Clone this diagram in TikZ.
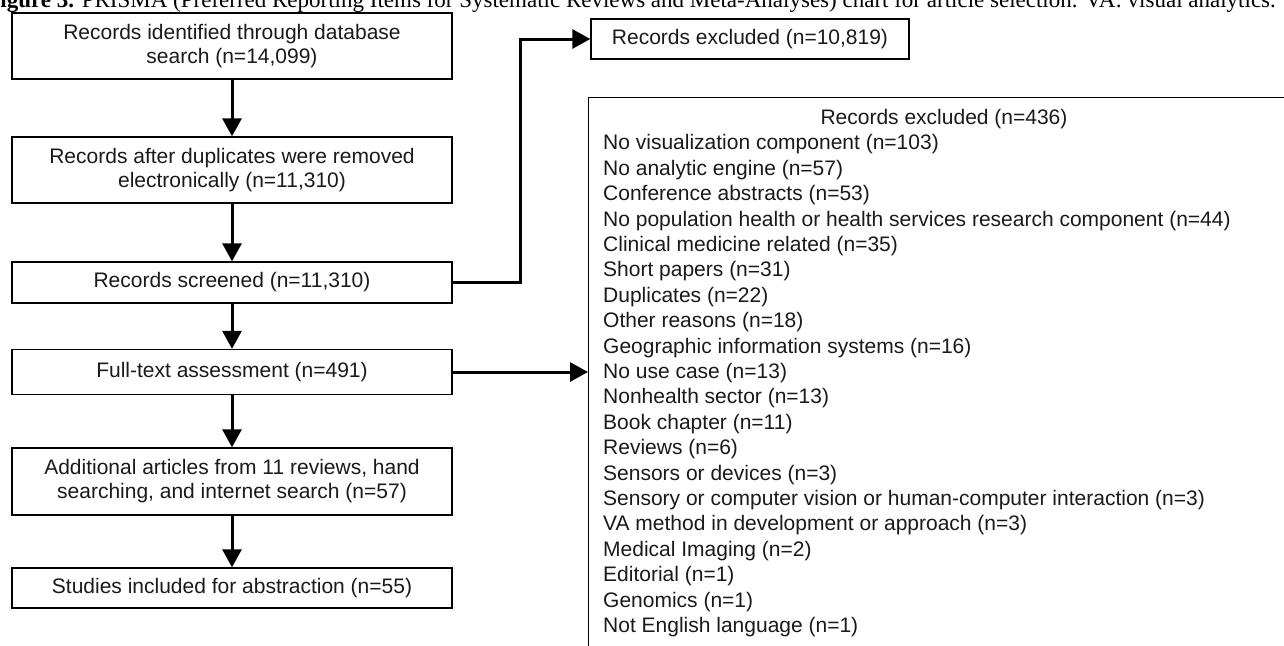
\documentclass[tikz,border=0pt]{standalone}
\usepackage{fontspec}
\setmainfont{Liberation Sans}
\newfontfamily\capfont{Liberation Serif}
\usetikzlibrary{arrows.meta}
\definecolor{txt}{HTML}{1A1A1A}
\begin{document}
\begin{tikzpicture}[x=1pt,y=-1pt,
  box/.style={draw=black, line width=1.4pt, inner sep=0pt, align=center, text=txt,
    font=\fontsize{21}{24}\selectfont, minimum width=440pt},
  conn/.style={draw=black, line width=3pt, -{Triangle[width=19pt,length=18pt]}},
  item/.style={anchor=west, inner sep=0pt, text=txt, font=\fontsize{21}{25}\selectfont}]
\useasboundingbox (0,0) rectangle (1284,645);
\clip (0,0) rectangle (1284,645);
\fill[white] (0,0) rectangle (1284,645);
% caption (cut off by the top edge)
\node[anchor=base east, inner sep=0pt, font=\capfont\fontsize{23}{26}\selectfont] (cap) at (1276,7.5)
  {\textbf{Figure 3.} PRISMA (Preferred Reporting Items for Systematic Reviews and Meta-Analyses) chart for article selection. VA: visual analytics.};
% left column
\node[box, minimum height=66pt] (b1) at (232,46) {Records identified through database\\search (n=14,099)};
\node[box, minimum height=66pt] (b2) at (232,170) {Records after duplicates were removed\\electronically (n=11,310)};
\node[box, minimum height=41pt] (b3) at (232,282.5) {Records screened (n=11,310)};
\node[box, minimum height=45pt] (b4) at (232,372) {Full-text assessment (n=491)};
\node[box, minimum height=67pt] (b5) at (232,481.5) {Additional articles from 11 reviews, hand\\searching, and internet search (n=57)};
\node[box, minimum height=40pt] (b6) at (232,588) {Studies included for abstraction (n=55)};
% exclusion boxes
\node[box, minimum width=318pt, minimum height=40pt] (ex1) at (750,39) {Records excluded (n=10,819)};
\node[draw=black, line width=1.4pt, minimum width=716pt, minimum height=603pt, anchor=north west, inner sep=0pt] (lst) at (588,97) {};
\node[item, anchor=center] (t0) at (944,119) {Records excluded (n=436)};
\foreach \txtitem [count=\i] in {
  No visualization component (n=103),
  No analytic engine (n=57),
  Conference abstracts (n=53),
  No population health or health services research component (n=44),
  Clinical medicine related (n=35),
  Short papers (n=31),
  Duplicates (n=22),
  Other reasons (n=18),
  Geographic information systems (n=16),
  No use case (n=13),
  Nonhealth sector (n=13),
  Book chapter (n=11),
  Reviews (n=6),
  Sensors or devices (n=3),
  Sensory or computer vision or human-computer interaction (n=3),
  VA method in development or approach (n=3),
  Medical Imaging (n=2),
  Editorial (n=1),
  Genomics (n=1),
  Not English language (n=1)}{
  \pgfmathsetmacro\yy{119+25.4*\i}
  \node[item] (t\i) at (603,\yy) {\txtitem};
}
% connectors
\draw[conn] (b1.south) -- (b2.north);
\draw[conn] (b2.south) -- (b3.north);
\draw[conn] (b3.south) -- (b4.north);
\draw[conn] (b4.south) -- (b5.north);
\draw[conn] (b5.south) -- (b6.north);
\coordinate (k) at (520,0);
\draw[conn] (b3.east) -- (b3.east -| k) |- (ex1.west);
\draw[conn] (b4.east) -- (b4.east -| lst.west);
\end{tikzpicture}
\end{document}
